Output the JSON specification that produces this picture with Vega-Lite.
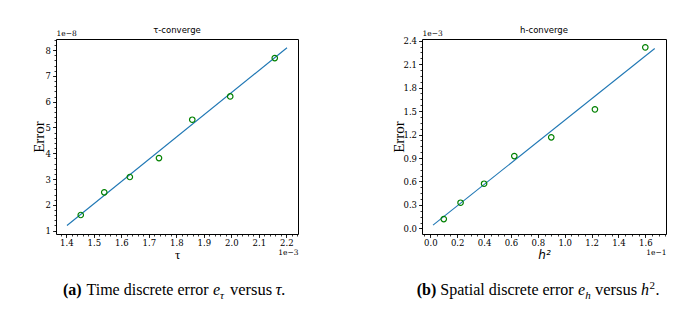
{
  "$schema": "https://vega.github.io/schema/vega-lite/v6.json",
  "autosize": {"type": "pad"},
  "padding": {"left": 30, "top": 25, "right": 5, "bottom": 5},
  "background": "white",
  "config": {
    "view": {"stroke": "black", "strokeWidth": 1},
    "axis": {
      "grid": false,
      "labelFont": "DejaVu Serif",
      "labelFontSize": 8.5,
      "labelColor": "black",
      "tickColor": "black",
      "tickWidth": 0.8,
      "domain": false,
      "titleColor": "black",
      "titleFontWeight": "normal"
    },
    "title": {"font": "DejaVu Sans", "fontSize": 8.5, "fontWeight": "normal", "color": "black", "offset": -5}
  },
  "bounds": "flush",
  "columns": 2,
  "spacing": {"row": 51, "column": 124},
  "concat": [
    {
      "width": 242,
      "height": 195,
      "title": {"text": "τ-converge"},
      "resolve": {"axis": {"x": "independent", "y": "independent"}},
      "layer": [
        {
          "data": {"values": [{"x": 1.4025, "y": 1.2}, {"x": 2.2025, "y": 8.09}]},
          "mark": {"type": "line", "color": "#1f77b4", "strokeWidth": 1.1},
          "encoding": {
            "x": {"field": "x", "type": "quantitative", "scale": {"domain": [1.3625, 2.2425], "nice": false, "zero": false},
              "axis": {"orient": "bottom", "labels": false, "title": null, "tickSize": 2,
                "values": [1.38,1.4,1.42,1.44,1.46,1.48,1.5,1.52,1.54,1.56,1.58,1.6,1.62,1.64,1.66,1.68,1.7,1.72,1.74,1.76,1.78,1.8,1.82,1.84,1.86,1.88,1.9,1.92,1.94,1.96,1.98,2.0,2.02,2.04,2.06,2.08,2.1,2.12,2.14,2.16,2.18,2.2,2.22,2.24]}},
            "y": {"field": "y", "type": "quantitative", "scale": {"domain": [0.87, 8.43], "nice": false, "zero": false},
              "axis": {"orient": "left", "labels": false, "title": null, "tickSize": 2,
                "values": [1,1.2,1.4,1.6,1.8,2,2.2,2.4,2.6,2.8,3,3.2,3.4,3.6,3.8,4,4.2,4.4,4.6,4.8,5,5.2,5.4,5.6,5.8,6,6.2,6.4,6.6,6.8,7,7.2,7.4,7.6,7.8,8,8.2,8.4]}}
          }
        },
        {
          "data": {"values": [
            {"x": 1.4525, "y": 1.607},
            {"x": 1.538, "y": 2.485},
            {"x": 1.631, "y": 3.08},
            {"x": 1.737, "y": 3.815},
            {"x": 1.858, "y": 5.30},
            {"x": 1.996, "y": 6.205},
            {"x": 2.158, "y": 7.69}
          ]},
          "mark": {"type": "point", "shape": "circle", "filled": false, "color": "#008000", "size": 30, "strokeWidth": 1.2, "opacity": 1},
          "encoding": {
            "x": {"field": "x", "type": "quantitative", "scale": {"domain": [1.3625, 2.2425], "nice": false, "zero": false},
              "axis": {"orient": "bottom", "values": [1.4,1.5,1.6,1.7,1.8,1.9,2.0,2.1,2.2], "format": ".1f", "tickSize": 3.5, "labelPadding": 0.5,
                "title": "τ", "titleFont": "Liberation Serif", "titleFontSize": 13, "titleX": 121, "titleY": 20, "titleBaseline": "middle", "titleAlign": "center"}},
            "y": {"field": "y", "type": "quantitative", "scale": {"domain": [0.87, 8.43], "nice": false, "zero": false},
              "axis": {"orient": "left", "values": [1,2,3,4,5,6,7,8], "format": "d", "tickSize": 3.5, "labelPadding": 2,
                "title": "Error", "titleFont": "Liberation Serif", "titleFontSize": 15, "titleX": -18, "titleY": 97.5, "titleAngle": -90, "titleBaseline": "middle", "titleAlign": "center"}}
          }
        },
        {
          "data": {"values": [{"x": 1.4525, "y": 1.607}]},
          "mark": {"type": "point", "opacity": 0},
          "encoding": {
            "x": {"field": "x", "type": "quantitative", "scale": {"domain": [1.3625, 2.2425], "nice": false, "zero": false},
              "axis": {"orient": "top", "labels": false, "ticks": false, "title": "1e−8", "titleFont": "DejaVu Serif", "titleFontSize": 7.5,
                "titleX": 0, "titleY": -2, "titleAlign": "left", "titleBaseline": "bottom", "titleAnchor": "start"}},
            "y": {"field": "y", "type": "quantitative", "scale": {"domain": [0.87, 8.43], "nice": false, "zero": false},
              "axis": {"orient": "right", "labels": false, "ticks": false, "title": "1e−3", "titleFont": "DejaVu Serif", "titleFontSize": 7.5,
                "titleAngle": 0, "titleX": 0, "titleY": 213, "titleAlign": "right", "titleBaseline": "middle"}}
          }
        }
      ]
    },
    {
      "width": 244,
      "height": 195,
      "title": {"text": "h-converge"},
      "resolve": {"axis": {"x": "independent", "y": "independent"}},
      "layer": [
        {
          "data": {"values": [{"x": 0.02, "y": 0.041}, {"x": 1.67, "y": 2.30}]},
          "mark": {"type": "line", "color": "#1f77b4", "strokeWidth": 1.1},
          "encoding": {
            "x": {"field": "x", "type": "quantitative", "scale": {"domain": [-0.062, 1.754], "nice": false, "zero": false},
              "axis": {"orient": "bottom", "labels": false, "title": null, "tickSize": 2,
                "values": [-0.05,0,0.05,0.1,0.15,0.2,0.25,0.3,0.35,0.4,0.45,0.5,0.55,0.6,0.65,0.7,0.75,0.8,0.85,0.9,0.95,1.0,1.05,1.1,1.15,1.2,1.25,1.3,1.35,1.4,1.45,1.5,1.55,1.6,1.65,1.7,1.75]}},
            "y": {"field": "y", "type": "quantitative", "scale": {"domain": [-0.072, 2.422], "nice": false, "zero": false},
              "axis": {"orient": "left", "labels": false, "title": null, "tickSize": 2,
                "values": [0,0.075,0.15,0.225,0.3,0.375,0.45,0.525,0.6,0.675,0.75,0.825,0.9,0.975,1.05,1.125,1.2,1.275,1.35,1.425,1.5,1.575,1.65,1.725,1.8,1.875,1.95,2.025,2.1,2.175,2.25,2.325,2.4]}}
          }
        },
        {
          "data": {"values": [
            {"x": 0.1, "y": 0.119},
            {"x": 0.225, "y": 0.328},
            {"x": 0.4, "y": 0.571},
            {"x": 0.625, "y": 0.925},
            {"x": 0.9, "y": 1.164},
            {"x": 1.225, "y": 1.522},
            {"x": 1.6, "y": 2.315}
          ]},
          "mark": {"type": "point", "shape": "circle", "filled": false, "color": "#008000", "size": 30, "strokeWidth": 1.2, "opacity": 1},
          "encoding": {
            "x": {"field": "x", "type": "quantitative", "scale": {"domain": [-0.062, 1.754], "nice": false, "zero": false},
              "axis": {"orient": "bottom", "values": [0,0.2,0.4,0.6,0.8,1.0,1.2,1.4,1.6], "format": ".1f", "tickSize": 3.5, "labelPadding": 0.5,
                "title": "h²", "titleFont": "DejaVu Sans", "titleFontStyle": "italic", "titleFontSize": 12, "titleX": 122, "titleY": 20, "titleBaseline": "middle", "titleAlign": "center"}},
            "y": {"field": "y", "type": "quantitative", "scale": {"domain": [-0.072, 2.422], "nice": false, "zero": false},
              "axis": {"orient": "left", "values": [0,0.3,0.6,0.9,1.2,1.5,1.8,2.1,2.4], "format": ".1f", "tickSize": 3.5, "labelPadding": 2,
                "title": "Error", "titleFont": "Liberation Serif", "titleFontSize": 15, "titleX": -24, "titleY": 97.5, "titleAngle": -90, "titleBaseline": "middle", "titleAlign": "center"}}
          }
        },
        {
          "data": {"values": [{"x": 0.1, "y": 0.119}]},
          "mark": {"type": "point", "opacity": 0},
          "encoding": {
            "x": {"field": "x", "type": "quantitative", "scale": {"domain": [-0.062, 1.754], "nice": false, "zero": false},
              "axis": {"orient": "top", "labels": false, "ticks": false, "title": "1e−3", "titleFont": "DejaVu Serif", "titleFontSize": 7.5,
                "titleX": 0, "titleY": -2, "titleAlign": "left", "titleBaseline": "bottom", "titleAnchor": "start"}},
            "y": {"field": "y", "type": "quantitative", "scale": {"domain": [-0.072, 2.422], "nice": false, "zero": false},
              "axis": {"orient": "right", "labels": false, "ticks": false, "title": "1e−1", "titleFont": "DejaVu Serif", "titleFontSize": 7.5,
                "titleAngle": 0, "titleX": 0, "titleY": 213, "titleAlign": "right", "titleBaseline": "middle"}}
          }
        }
      ]
    },
    {
      "width": 242,
      "height": 20,
      "view": {"stroke": null},
      "layer": [
        {"data": {"values": [{"t": "(a)"}]}, "mark": {"type": "text", "font": "Liberation Serif", "fontSize": 16, "fontWeight": "bold", "align": "left", "baseline": "alphabetic", "dx": -114}, "encoding": {"text": {"field": "t"}}},
        {"data": {"values": [{"t": "Time discrete error"}]}, "mark": {"type": "text", "font": "Liberation Serif", "fontSize": 16, "align": "left", "baseline": "alphabetic", "dx": -90.5}, "encoding": {"text": {"field": "t"}}},
        {"data": {"values": [{"t": "e"}]}, "mark": {"type": "text", "font": "Liberation Serif", "fontSize": 16, "fontStyle": "italic", "align": "left", "baseline": "alphabetic", "dx": 36}, "encoding": {"text": {"field": "t"}}},
        {"data": {"values": [{"t": "τ"}]}, "mark": {"type": "text", "font": "Liberation Serif", "fontSize": 11, "fontStyle": "italic", "align": "left", "baseline": "alphabetic", "dx": 43, "dy": 4}, "encoding": {"text": {"field": "t"}}},
        {"data": {"values": [{"t": "versus"}]}, "mark": {"type": "text", "font": "Liberation Serif", "fontSize": 16.5, "align": "left", "baseline": "alphabetic", "dx": 53}, "encoding": {"text": {"field": "t"}}},
        {"data": {"values": [{"t": "τ."}]}, "mark": {"type": "text", "font": "Liberation Serif", "fontSize": 17, "fontStyle": "italic", "align": "left", "baseline": "alphabetic", "dx": 98.5}, "encoding": {"text": {"field": "t"}}}
      ]
    },
    {
      "width": 244,
      "height": 20,
      "view": {"stroke": null},
      "layer": [
        {"data": {"values": [{"t": "(b)"}]}, "mark": {"type": "text", "font": "Liberation Serif", "fontSize": 16, "fontWeight": "bold", "align": "left", "baseline": "alphabetic", "dx": -127.3}, "encoding": {"text": {"field": "t"}}},
        {"data": {"values": [{"t": "Spatial discrete error"}]}, "mark": {"type": "text", "font": "Liberation Serif", "fontSize": 16, "align": "left", "baseline": "alphabetic", "dx": -103.7}, "encoding": {"text": {"field": "t"}}},
        {"data": {"values": [{"t": "e"}]}, "mark": {"type": "text", "font": "Liberation Serif", "fontSize": 16, "fontStyle": "italic", "align": "left", "baseline": "alphabetic", "dx": 34}, "encoding": {"text": {"field": "t"}}},
        {"data": {"values": [{"t": "h"}]}, "mark": {"type": "text", "font": "Liberation Serif", "fontSize": 11, "fontStyle": "italic", "align": "left", "baseline": "alphabetic", "dx": 41.2, "dy": 4}, "encoding": {"text": {"field": "t"}}},
        {"data": {"values": [{"t": "versus"}]}, "mark": {"type": "text", "font": "Liberation Serif", "fontSize": 16.5, "align": "left", "baseline": "alphabetic", "dx": 51}, "encoding": {"text": {"field": "t"}}},
        {"data": {"values": [{"t": "h"}]}, "mark": {"type": "text", "font": "Liberation Serif", "fontSize": 16, "fontStyle": "italic", "align": "left", "baseline": "alphabetic", "dx": 97}, "encoding": {"text": {"field": "t"}}},
        {"data": {"values": [{"t": "2"}]}, "mark": {"type": "text", "font": "Liberation Serif", "fontSize": 11, "align": "left", "baseline": "alphabetic", "dx": 105.5, "dy": -6}, "encoding": {"text": {"field": "t"}}},
        {"data": {"values": [{"t": "."}]}, "mark": {"type": "text", "font": "Liberation Serif", "fontSize": 16, "align": "left", "baseline": "alphabetic", "dx": 111.5}, "encoding": {"text": {"field": "t"}}}
      ]
    }
  ]
}
